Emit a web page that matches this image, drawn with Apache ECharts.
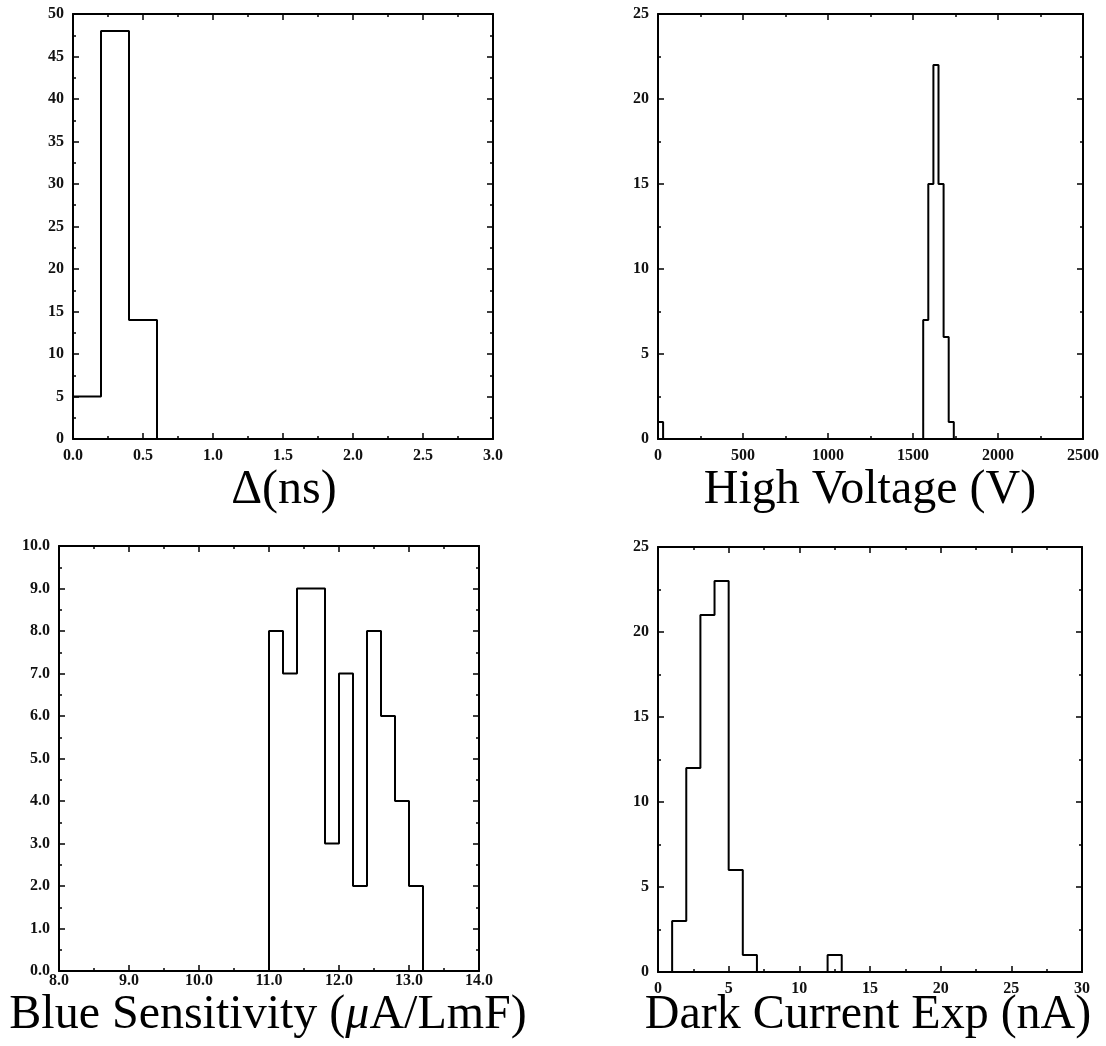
<!DOCTYPE html>
<html>
<head>
<meta charset="utf-8">
<script src="https://cdn.jsdelivr.net/npm/echarts@6/dist/echarts.min.js"></script>
<style>html,body{margin:0;padding:0;background:#fff}#c{width:1106px;height:1046px}</style>
</head>
<body>
<div id="c"></div>
<script>
// ---- data (bin left edges, bin width, counts) ----
const deltaBinLeft = [0.0, 0.2, 0.4];
const deltaBinWidth = 0.2;
const deltaCounts = [5, 48, 14];

const hvBinLeft = [0, 1560, 1590, 1620, 1650, 1680, 1710];
const hvBinWidth = 30;
const hvCounts = [1, 7, 15, 22, 15, 6, 1];

const blueBinLeft = [11.0, 11.2, 11.4, 11.6, 11.8, 12.0, 12.2, 12.4, 12.6, 12.8, 13.0];
const blueBinWidth = 0.2;
const blueCounts = [8, 7, 9, 9, 3, 7, 2, 8, 6, 4, 2];

const darkBinLeft = [1, 2, 3, 4, 5, 6, 12];
const darkBinWidth = 1;
const darkCounts = [3, 12, 21, 23, 6, 1, 1];

// axis titles
const titles = ['Δ(ns)', 'High Voltage (V)', 'Blue Sensitivity (μA/LmF)', 'Dark Current Exp (nA)'];

// outline of a histogram, in data coordinates
function outline(lefts, width, counts) {
  const pts = [];
  let prevRight = null;
  for (let i = 0; i < lefts.length; i++) {
    const L = lefts[i], R = +(lefts[i] + width).toFixed(6), c = counts[i];
    if (prevRight === null || Math.abs(prevRight - L) > 1e-9) {
      if (prevRight !== null) pts.push([prevRight, 0]);
      pts.push([L, 0]);
    }
    pts.push([L, c]);
    pts.push([R, c]);
    prevRight = R;
  }
  pts.push([prevRight, 0]);
  return pts;
}

const FONT = 'Liberation Serif';
const panels = [
  {grid:{left:73, top:14, width:420, height:425}, x:[0,3,0.5], y:[0,50,5], xf:v=>v.toFixed(1), yf:v=>String(v), xm:9, data:outline(deltaBinLeft, deltaBinWidth, deltaCounts)},
  {grid:{left:658, top:14, width:425, height:425}, x:[0,2500,500], y:[0,25,5], xf:v=>String(v), yf:v=>String(v), xm:9, data:outline(hvBinLeft, hvBinWidth, hvCounts)},
  {grid:{left:59, top:546, width:420, height:425}, x:[8,14,1], y:[0,10,1], xf:v=>v.toFixed(1), yf:v=>v.toFixed(1), xm:2, data:outline(blueBinLeft, blueBinWidth, blueCounts)},
  {grid:{left:658, top:547, width:424, height:425}, x:[0,30,5], y:[0,25,5], xf:v=>String(v), yf:v=>String(v), xm:9, data:outline(darkBinLeft, darkBinWidth, darkCounts)}
];

const grid = [], xAxis = [], yAxis = [], series = [], title = [];
const lineStyle = {color:'#000', width:2};
panels.forEach((p, i) => {
  grid.push(Object.assign({containLabel:false}, p.grid));
  const common = (range, fmt, pos, showLabel, margin) => ({
    type:'value', gridIndex:i, position:pos, min:range[0], max:range[1], interval:range[2],
    axisLine:{show:true, onZero:false, lineStyle:lineStyle},
    axisTick:{show:true, inside:true, length:6, lineStyle:{color:'#000', width:1.5}},
    minorTick:{show:true, splitNumber:2, length:3, lineStyle:{color:'#000', width:1.5}},
    splitLine:{show:false}, minorSplitLine:{show:false},
    axisLabel:{show:showLabel, formatter:fmt, margin:margin, fontFamily:FONT, fontSize:16, fontWeight:'bold', color:'#111', showMinLabel:true, showMaxLabel:true, hideOverlap:false}
  });
  xAxis.push(common(p.x, p.xf, 'bottom', true, p.xm));
  xAxis.push(common(p.x, p.xf, 'top', false, 8));
  yAxis.push(common(p.y, p.yf, 'left', true, 9));
  yAxis.push(common(p.y, p.yf, 'right', false, 8));
  series.push({type:'line', xAxisIndex:2*i, yAxisIndex:2*i, data:p.data, showSymbol:false, symbol:'none',
    lineStyle:{color:'#000', width:2}, itemStyle:{color:'#000'}, animation:false, silent:true, clip:true});
});

const titlePos = [
  {cx:284, top:466}, {cx:870, top:466}, {cx:268, top:991}, {cx:868, top:991}
];
titlePos.forEach((t, i) => {
  let text = titles[i];
  if (i === 2) text = '{n|Blue Sensitivity (}{i|μ}{n|A/LmF)}';
  else text = '{n|' + text + '}';
  title.push({text:text, left:t.cx, top:t.top, textAlign:'center', padding:0,
    textStyle:{fontWeight:'normal', rich:{n:{fontFamily:FONT, fontSize:48, fontWeight:'normal', color:'#000'}, i:{fontFamily:FONT, fontSize:48, fontStyle:'italic', fontWeight:'normal', color:'#000'}}}});
});

const chart = echarts.init(document.getElementById('c'), null, {renderer:'canvas'});
chart.setOption({animation:false, backgroundColor:'#fff', title, grid, xAxis, yAxis, series});
</script>
</body>
</html>
